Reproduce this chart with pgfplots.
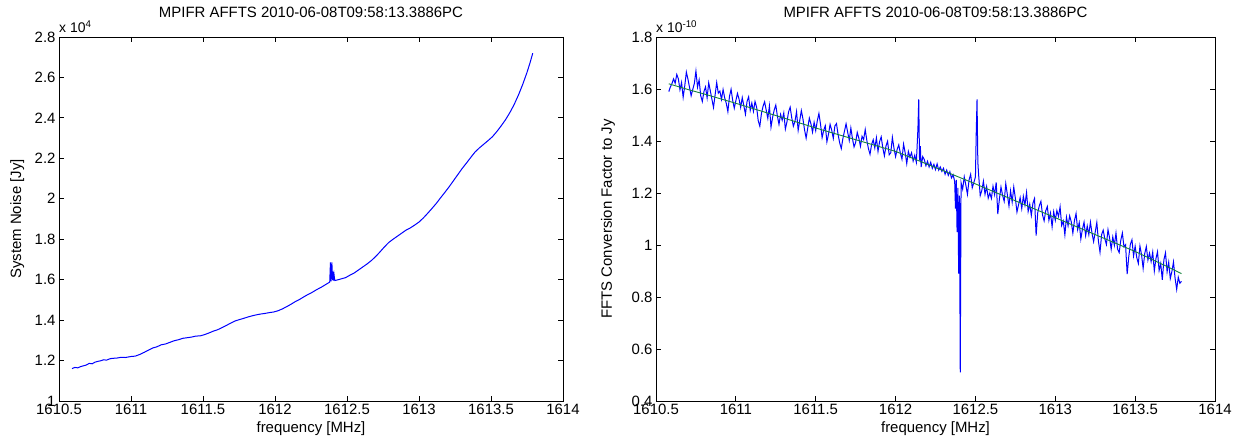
\documentclass[border=0pt]{standalone}
\usepackage{fontspec}
\setmainfont{Liberation Sans}
\usepackage{pgfplots}
\usepackage{pgfplotstable}
\pgfplotsset{compat=1.18}
\definecolor{mgreen}{RGB}{20,130,60}
\pgfplotstableread{
x y
1610.59 1.160
1610.61 1.166
1610.63 1.164
1610.65 1.170
1610.67 1.174
1610.69 1.178
1610.71 1.186
1610.73 1.184
1610.75 1.192
1610.77 1.196
1610.79 1.199
1610.81 1.204
1610.83 1.202
1610.85 1.208
1610.87 1.211
1610.90 1.212
1610.93 1.216
1610.96 1.215
1611.00 1.220
1611.03 1.222
1611.06 1.230
1611.09 1.240
1611.12 1.251
1611.15 1.262
1611.18 1.268
1611.21 1.278
1611.24 1.282
1611.27 1.290
1611.30 1.298
1611.33 1.303
1611.36 1.310
1611.39 1.313
1611.42 1.316
1611.45 1.321
1611.48 1.322
1611.51 1.328
1611.54 1.336
1611.57 1.345
1611.60 1.352
1611.63 1.362
1611.66 1.373
1611.69 1.384
1611.72 1.395
1611.75 1.402
1611.78 1.408
1611.81 1.415
1611.84 1.421
1611.87 1.426
1611.90 1.430
1611.93 1.433
1611.96 1.437
1611.99 1.440
1612.02 1.446
1612.05 1.455
1612.08 1.466
1612.11 1.478
1612.14 1.491
1612.17 1.502
1612.20 1.515
1612.23 1.527
1612.26 1.538
1612.29 1.551
1612.32 1.562
1612.35 1.575
1612.38 1.588
1612.385 1.685
1612.39 1.592
1612.395 1.685
1612.40 1.598
1612.403 1.640
1612.406 1.595
1612.41 1.625
1612.415 1.596
1612.43 1.598
1612.46 1.604
1612.49 1.610
1612.52 1.622
1612.55 1.633
1612.58 1.648
1612.61 1.663
1612.64 1.678
1612.67 1.695
1612.70 1.715
1612.73 1.738
1612.76 1.762
1612.79 1.784
1612.82 1.800
1612.85 1.815
1612.88 1.830
1612.91 1.845
1612.94 1.856
1612.97 1.870
1613.00 1.885
1613.03 1.905
1613.06 1.928
1613.09 1.952
1613.12 1.977
1613.15 2.005
1613.18 2.032
1613.21 2.060
1613.24 2.090
1613.27 2.120
1613.30 2.150
1613.33 2.177
1613.36 2.205
1613.39 2.232
1613.42 2.252
1613.45 2.270
1613.48 2.288
1613.51 2.307
1613.54 2.332
1613.57 2.360
1613.60 2.390
1613.63 2.425
1613.66 2.465
1613.69 2.512
1613.72 2.565
1613.75 2.625
1613.77 2.670
1613.79 2.720
}\noisetable
\pgfplotstableread{
x y
1610.58 1.590
1610.59 1.608
1610.60 1.621
1610.61 1.639
1610.62 1.622
1610.63 1.656
1610.64 1.639
1610.65 1.597
1610.66 1.625
1610.67 1.568
1610.68 1.612
1610.69 1.665
1610.70 1.638
1610.71 1.606
1610.72 1.574
1610.73 1.598
1610.74 1.621
1610.75 1.669
1610.76 1.607
1610.77 1.635
1610.78 1.574
1610.79 1.552
1610.80 1.590
1610.81 1.608
1610.82 1.566
1610.83 1.624
1610.84 1.593
1610.85 1.561
1610.86 1.529
1610.87 1.577
1610.88 1.625
1610.89 1.584
1610.90 1.592
1610.91 1.560
1610.92 1.598
1610.93 1.566
1610.94 1.545
1610.95 1.513
1610.96 1.571
1610.97 1.599
1610.98 1.557
1610.99 1.526
1611.00 1.555
1611.01 1.583
1611.02 1.561
1611.03 1.529
1611.04 1.567
1611.05 1.535
1611.06 1.503
1611.07 1.552
1611.08 1.570
1611.09 1.518
1611.10 1.546
1611.11 1.514
1611.12 1.552
1611.13 1.530
1611.14 1.478
1611.15 1.457
1611.16 1.505
1611.17 1.533
1611.18 1.551
1611.19 1.519
1611.20 1.487
1611.21 1.535
1611.22 1.453
1611.23 1.491
1611.24 1.519
1611.25 1.538
1611.26 1.496
1611.27 1.464
1611.28 1.502
1611.29 1.480
1611.30 1.508
1611.31 1.446
1611.32 1.474
1611.33 1.512
1611.34 1.530
1611.35 1.489
1611.36 1.457
1611.37 1.475
1611.38 1.513
1611.39 1.441
1611.40 1.479
1611.41 1.517
1611.42 1.485
1611.43 1.443
1611.44 1.411
1611.45 1.450
1611.46 1.488
1611.47 1.466
1611.48 1.434
1611.49 1.472
1611.50 1.440
1611.51 1.478
1611.52 1.506
1611.53 1.465
1611.54 1.413
1611.55 1.441
1611.56 1.459
1611.57 1.397
1611.58 1.426
1611.59 1.464
1611.60 1.442
1611.61 1.410
1611.62 1.458
1611.63 1.467
1611.64 1.425
1611.65 1.393
1611.66 1.371
1611.67 1.409
1611.68 1.438
1611.69 1.466
1611.70 1.434
1611.71 1.402
1611.72 1.450
1611.73 1.409
1611.74 1.377
1611.75 1.395
1611.76 1.433
1611.77 1.411
1611.78 1.380
1611.79 1.418
1611.80 1.406
1611.81 1.444
1611.82 1.402
1611.83 1.371
1611.84 1.349
1611.85 1.387
1611.86 1.405
1611.87 1.373
1611.88 1.412
1611.89 1.360
1611.90 1.398
1611.91 1.416
1611.92 1.374
1611.93 1.343
1611.94 1.381
1611.95 1.399
1611.96 1.347
1611.97 1.355
1611.98 1.414
1611.99 1.372
1612.00 1.340
1612.01 1.368
1612.02 1.385
1612.03 1.353
1612.04 1.330
1612.05 1.388
1612.06 1.355
1612.07 1.313
1612.08 1.360
1612.09 1.338
1612.10 1.355
1612.11 1.323
1612.12 1.345
1612.13 1.318
1612.135 1.380
1612.14 1.450
1612.145 1.560
1612.15 1.325
1612.155 1.380
1612.16 1.300
1612.17 1.340
1612.18 1.328
1612.19 1.305
1612.20 1.322
1612.21 1.300
1612.22 1.318
1612.23 1.295
1612.24 1.310
1612.25 1.290
1612.26 1.312
1612.27 1.288
1612.28 1.300
1612.29 1.283
1612.30 1.295
1612.31 1.272
1612.32 1.288
1612.33 1.268
1612.34 1.282
1612.35 1.258
1612.36 1.270
1612.37 1.245
1612.375 1.140
1612.38 1.250
1612.385 1.050
1612.39 1.220
1612.395 0.890
1612.40 1.190
1612.405 0.510
1612.41 1.240
1612.42 1.215
1612.43 1.262
1612.44 1.230
1612.45 1.195
1612.46 1.250
1612.47 1.272
1612.48 1.220
1612.49 1.240
1612.50 1.262
1612.505 1.430
1612.51 1.560
1612.515 1.320
1612.52 1.270
1612.53 1.190
1612.54 1.210
1612.55 1.245
1612.56 1.195
1612.57 1.225
1612.58 1.180
1612.59 1.200
1612.60 1.179
1612.61 1.226
1612.62 1.194
1612.63 1.241
1612.64 1.119
1612.65 1.176
1612.66 1.223
1612.67 1.191
1612.68 1.168
1612.69 1.236
1612.70 1.193
1612.71 1.150
1612.72 1.208
1612.73 1.165
1612.74 1.223
1612.75 1.180
1612.76 1.127
1612.77 1.155
1612.78 1.182
1612.79 1.140
1612.80 1.187
1612.81 1.154
1612.82 1.202
1612.83 1.129
1612.84 1.157
1612.85 1.114
1612.86 1.161
1612.87 1.179
1612.88 1.036
1612.89 1.124
1612.90 1.151
1612.91 1.168
1612.92 1.116
1612.93 1.093
1612.94 1.131
1612.95 1.148
1612.96 1.095
1612.97 1.123
1612.98 1.070
1612.99 1.128
1613.00 1.095
1613.01 1.132
1613.02 1.110
1613.03 1.147
1613.04 1.075
1613.05 1.092
1613.06 1.039
1613.07 1.107
1613.08 1.074
1613.09 1.112
1613.10 1.089
1613.11 1.046
1613.12 1.094
1613.13 1.121
1613.14 1.059
1613.15 1.086
1613.16 1.023
1613.17 1.061
1613.18 1.088
1613.19 1.036
1613.20 1.073
1613.21 1.040
1613.22 1.088
1613.23 1.045
1613.24 1.013
1613.25 1.050
1613.26 1.087
1613.27 1.015
1613.28 0.972
1613.29 1.040
1613.30 1.057
1613.31 1.024
1613.32 1.002
1613.33 1.059
1613.34 1.027
1613.35 0.984
1613.36 1.031
1613.37 0.999
1613.38 1.046
1613.39 0.984
1613.40 0.971
1613.41 1.018
1613.42 1.046
1613.43 0.993
1613.44 1.001
1613.45 0.888
1613.46 0.955
1613.47 1.003
1613.48 1.020
1613.49 0.958
1613.50 0.995
1613.51 0.952
1613.52 0.929
1613.53 0.996
1613.54 0.963
1613.55 0.910
1613.56 0.967
1613.57 0.994
1613.58 0.942
1613.59 0.969
1613.60 0.936
1613.61 0.973
1613.62 0.900
1613.63 0.947
1613.64 0.974
1613.65 0.902
1613.66 0.929
1613.67 0.866
1613.68 0.943
1613.69 0.970
1613.70 0.897
1613.71 0.934
1613.72 0.871
1613.73 0.898
1613.74 0.935
1613.75 0.872
1613.76 0.829
1613.77 0.876
1613.78 0.853
1613.79 0.860
}\convtable
\pgfplotstableread{
x y
1610.58 1.620
1610.70 1.598
1610.80 1.581
1610.90 1.563
1611.00 1.545
1611.25 1.498
1611.50 1.450
1611.75 1.405
1612.00 1.360
1612.25 1.298
1612.50 1.235
1612.75 1.170
1613.00 1.105
1613.25 1.040
1613.50 0.975
1613.60 0.946
1613.70 0.917
1613.79 0.890
}\trendtable
\begin{document}
\begin{tikzpicture}
\useasboundingbox (0,0) rectangle (1233bp,438bp);
\pgfplotsset{
  mstyle/.style={
    scale only axis, anchor=south west,
    height=364bp,
    xmin=1610.5, xmax=1614,
    xtick={1610.5,1611,1611.5,1612,1612.5,1613,1613.5,1614},
    xticklabels={1610.5,1611,1611.5,1612,1612.5,1613,1613.5,1614},
    tick align=inside, major tick length=5bp,
    axis line style={line width=0.8bp},
    every tick/.style={line width=0.8bp, black},
    tick label style={font=\fontsize{15}{17}\selectfont},
    label style={font=\fontsize{15}{17}\selectfont},
    title style={font=\fontsize{15}{17}\selectfont, at={(axis description cs:0.5,1.05)}, anchor=center},
    ylabel style={at={(axis description cs:-0.083,0.5)}, anchor=center},
    scaled ticks=false,
    xlabel={frequency [MHz]},
    clip mode=individual,
    title={MPIFR AFFTS 2010-06-08T09:58:13.3886PC},
  }
}
\begin{axis}[mstyle, at={(59bp,37bp)}, width=504bp,
  ymin=1, ymax=2.8,
  ytick={1,1.2,1.4,1.6,1.8,2,2.2,2.4,2.6,2.8},
  yticklabels={1,1.2,1.4,1.6,1.8,2,2.2,2.4,2.6,2.8},
  ylabel={System Noise [Jy]}]
\addplot[blue, line width=1bp] table {\noisetable};
\node[anchor=south west, inner sep=0pt, yshift=4bp, font=\fontsize{14}{16}\selectfont] at (rel axis cs:0,1) {x 10\textsuperscript{4}};
\end{axis}
\begin{axis}[mstyle, at={(656bp,37bp)}, width=559bp,
  ymin=0.4, ymax=1.8,
  ytick={0.4,0.6,0.8,1,1.2,1.4,1.6,1.8},
  yticklabels={0.4,0.6,0.8,1,1.2,1.4,1.6,1.8},
  ylabel={FFTS Conversion Factor to Jy},
  ylabel style={at={(axis description cs:-0.086,0.5)}}]
\addplot[blue, line width=1bp] table {\convtable};
\addplot[mgreen, line width=0.9bp] table {\trendtable};
\node[anchor=south west, inner sep=0pt, yshift=4bp, font=\fontsize{14}{16}\selectfont] at (rel axis cs:0,1) {x 10\textsuperscript{-10}};
\end{axis}
\end{tikzpicture}
\end{document}
